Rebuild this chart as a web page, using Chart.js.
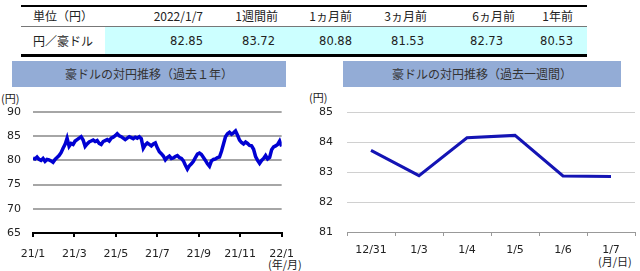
<!DOCTYPE html>
<html>
<head>
<meta charset="utf-8">
<script src="https://cdn.jsdelivr.net/npm/chart.js@4.4.1/dist/chart.umd.min.js"></script>
<style>
  body { margin: 0; width: 640px; height: 271px; background: #fff; position: relative; overflow: hidden;
         font-family: "Noto Sans CJK JP", sans-serif; color: #222; }
  .abs { position: absolute; white-space: nowrap; }
  .num { font-family: "DejaVu Sans", sans-serif; }
  .title { position: absolute; background: #93acd6; color: #333; font-size: 12px; text-align: center; line-height: 26px; height: 26px; top: 61px; }
  .unit { position: absolute; font-size: 11px; color: #222; line-height: 12px; }
</style>
</head>
<body>
<div class="abs" style="left:21px;top:5px;width:566px;height:2px;background:#000"></div>
<div class="abs" style="left:21px;top:26px;width:566px;height:1px;background:#777"></div>
<div class="abs" style="left:105px;top:27px;width:482px;height:27px;background:#ccffff"></div>
<div class="abs" style="left:21px;top:54px;width:566px;height:3px;background:#000"></div>
<div id="table"></div>

<div class="title" style="left:12px;width:274px">豪ドルの対円推移（過去１年）</div>
<div class="title" style="left:343px;width:278px">豪ドルの対円推移（過去一週間）</div>

<div class="unit" style="left:1px;top:92px">(円)</div>
<div class="unit" style="left:309px;top:91px">(円)</div>
<div class="unit" style="left:268px;top:258px">(年/月)</div>
<div class="unit" style="left:598px;top:255px">(月/日)</div>

<div class="abs" style="left:0;top:88px"><canvas id="yearChart" width="305" height="183"></canvas></div>
<div class="abs" style="left:305px;top:88px"><canvas id="weekChart" width="335" height="183"></canvas></div>

<script>
// table
const tableRowLabel = '円／豪ドル';
const tableHeads = ['2022/1/7', '1週間前', '1ヵ月前', '3ヵ月前', '6ヵ月前', '1年前'];
const tableVals = [82.85, 83.72, 80.88, 81.53, 82.73, 80.53];

// past year, AUD/JPY (roughly every 2 business days)
const yearVals = [
  80.5, 80.3, 80.7, 80.2, 80.0, 80.4, 79.8, 80.2, 80.1, 79.9,
  79.6, 80.2, 80.6, 81.0, 81.6, 82.5, 83.3, 84.6, 82.9, 83.5,
  83.3, 84.0, 84.3, 84.6, 84.9, 84.2, 82.9, 83.4, 83.8, 84.0,
  84.2, 83.9, 84.1, 83.5, 83.3, 83.9, 84.1, 84.3, 84.0, 84.6,
  84.8, 85.1, 85.5, 85.1, 84.9, 84.6, 84.3, 84.6, 84.9, 84.7,
  84.5, 84.8, 84.6, 84.9, 84.5, 82.5, 83.2, 83.6, 83.3, 83.0,
  83.4, 83.6, 82.6, 81.8, 81.4, 80.9, 80.1, 80.6, 80.9, 80.4,
  80.5, 80.8, 81.0, 80.6, 80.4, 79.9, 79.0, 78.2, 78.9, 79.3,
  79.8, 80.6, 81.3, 81.5, 81.2, 80.6, 80.0, 79.3, 78.8, 79.9,
  80.2, 80.3, 80.6, 80.7, 81.9, 83.4, 84.9, 85.5, 85.8, 85.4,
  85.7, 86.1, 85.2, 84.2, 83.7, 83.4, 83.8, 83.5, 83.1, 83.0,
  82.3, 80.8, 80.0, 79.4, 80.0, 80.4, 81.0, 80.3, 80.6, 82.2,
  82.8, 83.0, 83.3, 84.0, 82.9
];
const yearTicks = ['21/1', '21/3', '21/5', '21/7', '21/9', '21/11', '22/1'];

// past week
const weekLabels = ['12/31', '1/3', '1/4', '1/5', '1/6', '1/7'];
const weekVals = [83.72, 82.88, 84.14, 84.22, 82.87, 82.85];

// build the table text
const headRight = [203, 278, 352, 427, 515, 573];
const valRight = [203, 275, 352, 424, 503, 573];
let html = '<div class="abs" style="left:33px;top:7px;font-size:12px;line-height:18px">単位（円）</div>';
html += '<div class="abs" style="left:33px;top:32px;font-size:12px;line-height:18px">' + tableRowLabel + '</div>';
tableHeads.forEach((h, i) => {
  html += '<div class="abs" style="right:' + (640 - headRight[i]) + 'px;top:7px;font-size:12px;line-height:18px">' + h + '</div>';
  html += '<div class="abs num" style="right:' + (640 - valRight[i]) + 'px;top:32px;font-size:11.5px;line-height:18px">' + tableVals[i].toFixed(2) + '</div>';
});
document.getElementById('table').innerHTML = html;

const tickFont = { family: 'DejaVu Sans', size: 11 };

new Chart(document.getElementById('yearChart').getContext('2d'), {
  type: 'line',
  data: {
    datasets: [{
      data: yearVals.map((v, i) => ({ x: i, y: v })),
      borderColor: '#0000d2',
      borderWidth: 3.5,
      pointRadius: 0,
      tension: 0
    }]
  },
  options: {
    responsive: false,
    animation: false,
    devicePixelRatio: 1,
    layout: { padding: { top: 24, right: 23, left: 0, bottom: 0 } },
    plugins: { legend: { display: false }, tooltip: { enabled: false } },
    scales: {
      x: {
        type: 'linear',
        min: 0,
        max: yearVals.length - 1,
        afterBuildTicks: (s) => {
          s.ticks = yearTicks.map((t, k) => ({ value: k * (yearVals.length - 1) / (yearTicks.length - 1) }));
        },
        afterFit: (s) => { s.height = 38; },
        ticks: { callback: (v, i) => yearTicks[i], autoSkip: false, maxRotation: 0, padding: 11, color: '#222', font: tickFont },
        grid: { drawOnChartArea: false, drawTicks: true, tickLength: 4, color: '#000', lineWidth: 2 },
        border: { display: true, color: '#000', width: 2 }
      },
      y: {
        min: 65,
        max: 90,
        afterFit: (s) => { s.width = 33; },
        ticks: { stepSize: 5, padding: 12, color: '#222', font: tickFont },
        grid: { color: '#a6a6a6', lineWidth: 2, drawTicks: false },
        border: { display: false }
      }
    }
  }
});

new Chart(document.getElementById('weekChart').getContext('2d'), {
  type: 'line',
  data: {
    labels: weekLabels,
    datasets: [{
      data: weekVals,
      borderColor: '#1414b4',
      borderWidth: 3,
      pointRadius: 0,
      tension: 0
    }]
  },
  options: {
    responsive: false,
    animation: false,
    devicePixelRatio: 1,
    layout: { padding: { top: 24, right: 5, left: 0, bottom: 0 } },
    plugins: { legend: { display: false }, tooltip: { enabled: false } },
    scales: {
      x: {
        offset: true,
        afterFit: (s) => { s.height = 39; },
        ticks: { autoSkip: false, maxRotation: 0, padding: 8, color: '#222', font: tickFont },
        grid: { offset: true, drawOnChartArea: false, drawTicks: true, tickLength: 4, color: '#999', lineWidth: 1 },
        border: { display: true, color: '#999', width: 1 }
      },
      y: {
        min: 81,
        max: 85,
        afterFit: (s) => { s.width = 42; },
        ticks: { stepSize: 1, padding: 14, color: '#222', font: tickFont },
        grid: { color: '#d0d0d0', lineWidth: 1, drawTicks: false },
        border: { display: false }
      }
    }
  }
});
</script>
</body>
</html>
